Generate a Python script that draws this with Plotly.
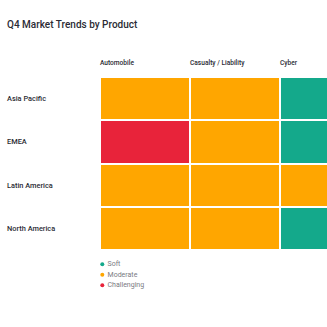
import plotly.graph_objects as go

products = ["Automobile", "Casualty / Liability", "Cyber"]
regions = ["Asia Pacific", "EMEA", "Latin America", "North America"]
levels = ["Soft", "Moderate", "Challenging"]
level_colors = ["#14A98B", "#FFA600", "#E8233A"]
# 0 = Soft, 1 = Moderate, 2 = Challenging
trend = [
    [1, 1, 0],
    [2, 1, 0],
    [1, 1, 1],
    [1, 1, 0],
]

FONT = "Roboto"
W, H = 327, 327
ML, MR, MT, MB = 100, 0, 77, 30
PH = H - MT - MB

def py(px):
    return (H - MB - px) / PH

colorscale = [
    [0.0, level_colors[0]], [1/3, level_colors[0]],
    [1/3, level_colors[1]], [2/3, level_colors[1]],
    [2/3, level_colors[2]], [1.0, level_colors[2]],
]

fig = go.Figure()
fig.add_trace(go.Heatmap(
    z=trend, x=products, y=regions,
    zmin=-0.5, zmax=2.5, colorscale=colorscale, showscale=False,
    xgap=2, ygap=2, hoverinfo="skip",
))

# custom legend
fig.add_trace(go.Scatter(
    x=[0] * len(levels), y=list(range(len(levels))),
    mode="markers+text", text=[" " + l for l in levels], textposition="middle right",
    marker=dict(color=level_colors, size=4),
    textfont=dict(family=FONT, size=7, color="#7a7a82"),
    xaxis="x2", yaxis="y2", showlegend=False, hoverinfo="skip",
))

annotations = []
for i, p in enumerate(products):
    annotations.append(dict(
        x=i - 0.5, xshift=-2, y=1 + 14 / PH, xref="x", yref="paper",
        text=p, showarrow=False, xanchor="left", yanchor="middle",
        font=dict(family=FONT, size=6.6, color="#2b2b33", weight=500),
    ))
for r in regions:
    annotations.append(dict(
        x=(5 - ML) / (W - ML - MR), y=r, xref="paper", yref="y",
        text=r, showarrow=False, xanchor="left", yanchor="middle",
        font=dict(family=FONT, size=7.4, color="#2b2b33", weight=500),
    ))

fig.update_layout(
    width=W, height=H,
    margin=dict(l=ML, r=MR, t=MT, b=MB),
    paper_bgcolor="white", plot_bgcolor="white",
    title=dict(text="Q4 Market Trends by Product", x=7 / W, xanchor="left",
               y=1 - 24.5 / H, yanchor="middle",
               font=dict(family=FONT, size=10, color="#2b2b35", weight=500)),
    xaxis=dict(range=[-0.5, 2.02], showticklabels=False, showgrid=False,
               zeroline=False, fixedrange=True),
    yaxis=dict(domain=[py(250), 1], autorange="reversed", showticklabels=False,
               showgrid=False, zeroline=False),
    xaxis2=dict(domain=[0, 1], range=[-2.3, W - ML - MR - 2.3], visible=False,
                anchor="y2"),
    yaxis2=dict(domain=[py(290.5), py(259)], range=[2.5, -0.5], visible=False,
                anchor="x2"),
    annotations=annotations,
    showlegend=False,
)

fig.write_html("out.html")
